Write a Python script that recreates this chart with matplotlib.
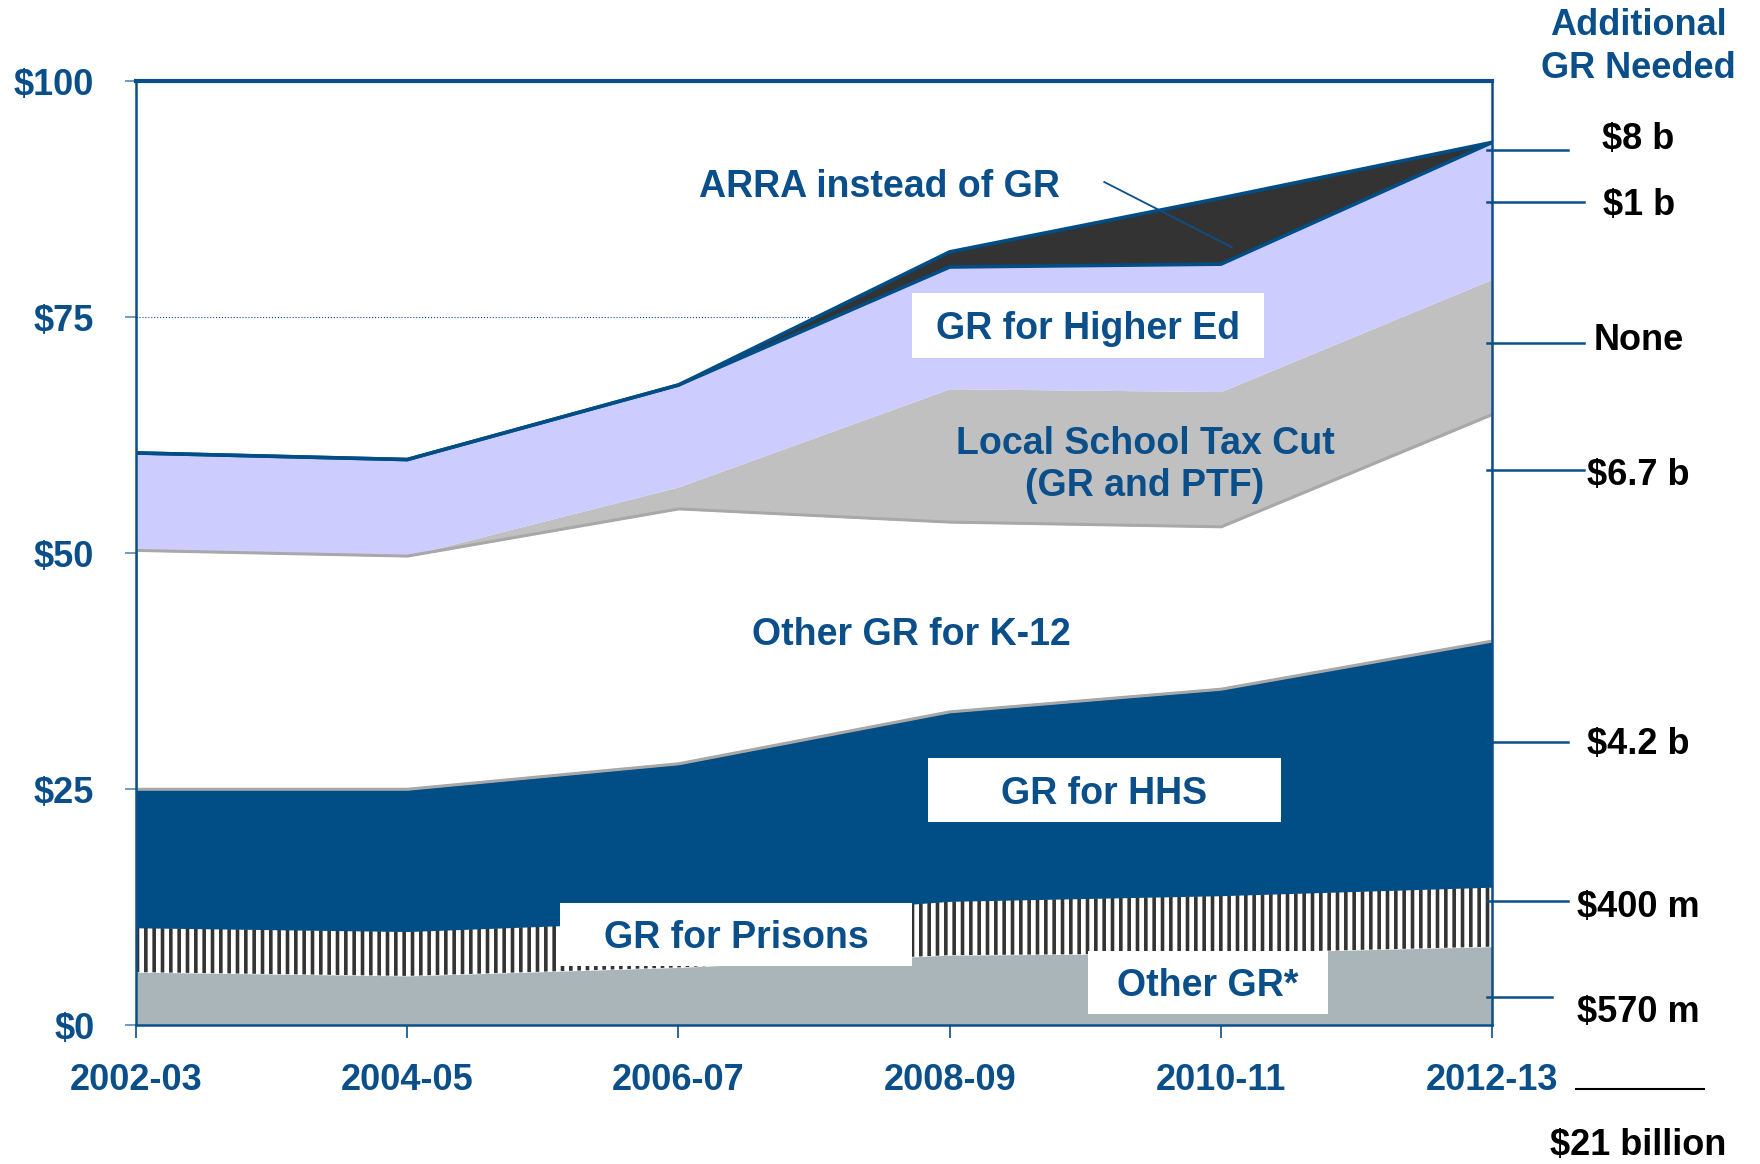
import numpy as np
import matplotlib
matplotlib.use("Agg")
import matplotlib.pyplot as plt
from matplotlib.patches import Rectangle

# Biennium labels
years = ["2002-03", "2004-05", "2006-07", "2008-09", "2010-11", "2012-13"]

# Layer amounts in $ billions (bottom to top)
other_gr = [5.6, 5.2, 6.1, 7.4, 7.6, 8.3]
prisons = [4.7, 4.7, 4.9, 5.7, 6.1, 6.3]
hhs = [14.7, 15.1, 16.7, 20.1, 21.9, 26.1]
other_k12 = [25.3, 24.7, 27.0, 20.1, 17.2, 24.0]
local_tax_cut = [0.0, 0.0, 2.3, 14.1, 14.3, 14.3]
higher_ed = [10.3, 10.2, 10.8, 12.9, 13.5, 14.5]
arra = [0.0, 0.0, 0.0, 1.6, 7.0, 0.0]

# Right-hand "Additional GR Needed" notes
note_labels = ["$8 b", "$1 b", "None", "$6.7 b", "$4.2 b", "$400 m", "$570 m"]
note_line_y = [92.7, 87.2, 72.3, 58.8, 30.0, 13.1, 3.0]
note_text_y = [93.8, 86.8, 72.5, 58.2, 29.7, 12.4, 1.3]
note_line_end = [5.28, 5.34, 5.34, 5.34, 5.28, 5.28, 5.22]
total_label = "$21 billion"

BLUE = "#0B4F8A"
HHS_BLUE = "#014D85"
EDGE_GRAY = "#A8A8A8"

plt.rcParams["font.family"] = ["Liberation Sans", "DejaVu Sans"]
plt.rcParams["font.weight"] = "bold"
plt.rcParams["hatch.linewidth"] = 2.6
plt.rcParams["hatch.color"] = "#333333"

x = np.arange(len(years))
layers = [other_gr, prisons, hhs, other_k12, local_tax_cut, higher_ed, arra]
tops = np.cumsum(np.array(layers), axis=0)
bottoms = np.vstack([np.zeros(len(years)), tops[:-1]])

fig = plt.figure(figsize=(17.6, 11.64), dpi=100)
ax = fig.add_axes([0.0773, 0.1194, 0.7705, 0.811])

# faint gridlines (only visible in the empty area)
for gy in [25, 50, 75]:
    ax.axhline(gy, color=BLUE, lw=0.8, ls=":", zorder=0)

ax.fill_between(x, bottoms[0], tops[0], color="#A9B5B9", lw=0, zorder=1)
ax.fill_between(x, bottoms[1], tops[1], facecolor="white", edgecolor="#333333",
                hatch="||", lw=0, zorder=1)
ax.fill_between(x, bottoms[2], tops[2], color=HHS_BLUE, lw=0, zorder=1)
ax.fill_between(x, bottoms[3], tops[3], facecolor="white", edgecolor=EDGE_GRAY,
                lw=1.8, zorder=1)
ax.fill_between(x, bottoms[4], tops[4], color="#C0C0C0", lw=0, zorder=1)
ax.fill_between(x, bottoms[5], tops[5], color="#CCCCFF", lw=0, zorder=1)
ax.fill_between(x, bottoms[6], tops[6], color="#333333", lw=0, zorder=1)

ax.plot(x, tops[2], color=EDGE_GRAY, lw=1.8, zorder=2)
ax.plot(x, tops[3], color=EDGE_GRAY, lw=1.8, zorder=2)
ax.plot(x, tops[5], color=HHS_BLUE, lw=2.6, zorder=3)
ax.plot(x, tops[6], color=HHS_BLUE, lw=2.6, zorder=3)

ax.set_xlim(0, 5)
ax.set_ylim(0, 100)
ax.set_xticks(x)
ax.set_xticklabels(years)
ax.set_yticks([0, 25, 50, 75, 100])
ax.set_yticklabels(["$0", "$25", "$50", "$75", "$100"])
ax.tick_params(axis="x", direction="out", length=9, width=1.2, color=BLUE,
               labelsize=26, labelcolor=BLUE, pad=18)
ax.tick_params(axis="y", direction="out", length=8, width=1.2, color="#5A86B5",
               labelsize=26, labelcolor=BLUE, pad=22)
for name, sp in ax.spines.items():
    sp.set_color(BLUE)
    sp.set_zorder(5)
    sp.set_linewidth(3.0 if name == "top" else 1.8)

# in-chart labels
txt = dict(color=BLUE, fontsize=27, fontweight="bold", ha="center", va="center", zorder=7)

def boxed(cx, cy, w, h, label):
    ax.add_patch(Rectangle((cx - w / 2, cy - h / 2), w, h, facecolor="white",
                           edgecolor="none", zorder=6))
    ax.text(cx, cy - 0.4, label, **txt)

boxed(3.51, 74.1, 1.30, 6.8, "GR for Higher Ed")
boxed(3.57, 24.9, 1.30, 6.8, "GR for HHS")
boxed(2.212, 9.6, 1.30, 6.7, "GR for Prisons")
boxed(3.953, 4.5, 0.886, 6.7, "Other GR*")

ax.text(2.74, 88.8, "ARRA instead of GR", **txt)
ax.plot([3.57, 4.04], [89.3, 82.4], color=BLUE, lw=1.3, zorder=7)
ax.text(3.72, 59.3, "Local School Tax Cut\n(GR and PTF)", linespacing=1.2, **txt)
ax.text(2.86, 41.3, "Other GR for K-12", **txt)

# right-hand notes
ax.text(5.54, 103.6, "Additional\nGR Needed", color=BLUE, fontsize=26,
        fontweight="bold", ha="center", va="center", linespacing=1.3, clip_on=False)
for lab, ly, ty, xe in zip(note_labels, note_line_y, note_text_y, note_line_end):
    ax.plot([4.98, xe], [ly, ly], color=BLUE, lw=1.8, clip_on=False, zorder=6)
    ax.text(5.54, ty, lab, color="black", fontsize=26, fontweight="bold",
            ha="center", va="center", clip_on=False)
ax.plot([5.31, 5.78], [-6.8, -6.8], color="black", lw=1.5, clip_on=False)
ax.text(5.54, -12.8, total_label, color="black", fontsize=26, fontweight="bold",
        ha="center", va="center", clip_on=False)

fig.savefig("out.png", dpi=100)
